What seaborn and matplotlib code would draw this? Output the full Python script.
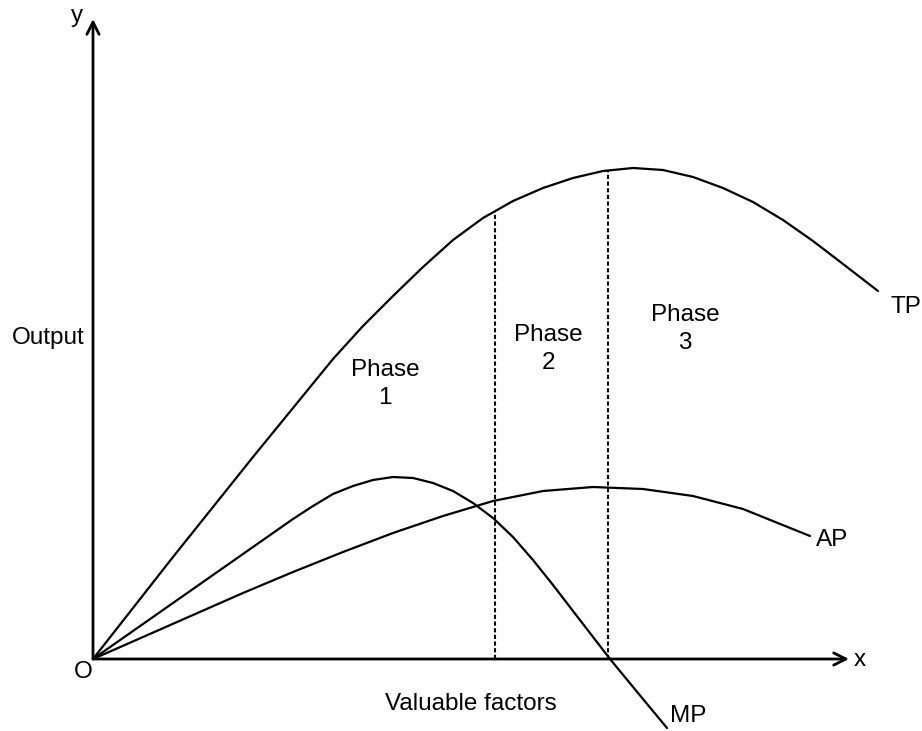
import matplotlib
matplotlib.use("Agg")
import matplotlib.pyplot as plt
import seaborn as sns
import pandas as pd

# curves (x = input units, y = output units)
tp_x = [0, 4, 8, 12, 16, 20, 24, 27, 30, 33, 36, 39, 42, 45, 48, 51, 54, 57, 60, 63, 66, 69, 72, 75, 78.5]
tp_y = [0, 5.1, 10.2, 15.2, 20.2, 25.1, 30.0, 33.3, 36.3, 39.2, 41.9, 44.1, 45.8, 47.1, 48.1, 48.8, 49.1,
        48.9, 48.2, 47.1, 45.7, 43.9, 41.8, 39.5, 36.8]

mp_x = [0, 5, 10, 15, 20, 22, 24, 26, 28, 30, 32, 34, 36, 38, 40, 42, 44, 46, 48, 51.7, 54.5, 57.4]
mp_y = [0, 3.5, 7.0, 10.5, 14.0, 15.3, 16.5, 17.3, 17.9, 18.2, 18.1, 17.6, 16.8, 15.6, 14.1, 12.2, 9.9,
        7.4, 4.8, 0, -3.4, -6.9]

ap_x = [0, 5, 10, 15, 20, 25, 30, 35, 40, 45, 50, 55, 60, 65, 71.7]
ap_y = [0, 2.2, 4.4, 6.6, 8.7, 10.7, 12.6, 14.3, 15.8, 16.8, 17.2, 17.0, 16.3, 15.0, 12.3]

# phase boundaries (x) and where they meet TP
bound_x = [40.2, 51.5]
bound_top = [44.8, 48.85]

phase_labels = ["Phase\n1", "Phase\n2", "Phase\n3"]
phase_x = [29.2, 45.5, 59.2]
phase_y = [27.5, 31.0, 33.0]

curve_names = ["TP", "AP", "MP"]
curve_label_xy = [(81.3, 35.2), (73.9, 11.9), (59.5, -5.7)]

sns.set_theme(style="white")
plt.rcParams["font.family"] = ["Liberation Sans", "DejaVu Sans"]

fig = plt.figure(figsize=(9.22, 7.31), dpi=100)
ax = fig.add_axes([0, 0, 1, 1])
ax.set_xlim(-9.3, 82.9)
ax.set_ylim(-7.2, 65.9)
ax.axis("off")

for xs, ys in [(tp_x, tp_y), (mp_x, mp_y), (ap_x, ap_y)]:
    df = pd.DataFrame({"x": xs, "y": ys})
    sns.lineplot(data=df, x="x", y="y", sort=False, estimator=None,
                 color="black", linewidth=1.6, ax=ax)

# dashed phase boundaries
ax.vlines(bound_x, 0, bound_top, colors="black", linestyles=(0, (2, 1.2)), linewidth=1.5)

# axes with arrows
arrow = dict(arrowstyle="->", color="black", lw=2, mutation_scale=22, shrinkA=0, shrinkB=0)
ax.annotate("", xy=(75.6, 0), xytext=(0, 0), arrowprops=arrow)
ax.annotate("", xy=(0, 64.0), xytext=(0, 0), arrowprops=arrow)

fs = 17.5
txt = dict(fontsize=fs, ha="center", va="center", color="black")
ax.text(76.7, -0.1, "x", **txt)
ax.text(-1.6, 64.3, "y", **txt)
ax.text(-1.0, -1.3, "O", **txt)
ax.text(-4.5, 32.1, "Output", **txt)
ax.text(37.8, -4.5, "Valuable factors", **txt)

for lab, px, py in zip(phase_labels, phase_x, phase_y):
    ax.text(px, py, lab, linespacing=1.3, **txt)

for name, (lx, ly) in zip(curve_names, curve_label_xy):
    ax.text(lx, ly, name, **txt)

fig.savefig("out.png", dpi=100, facecolor="white")
